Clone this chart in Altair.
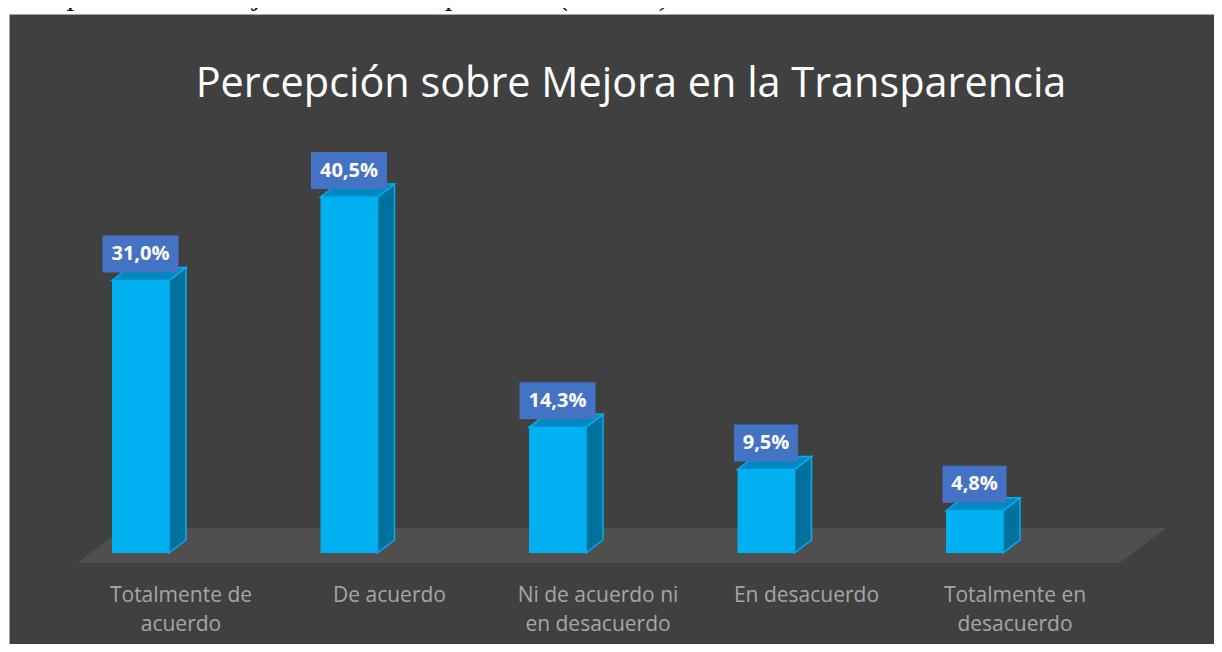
import altair as alt
import pandas as pd

# ---- data ----
categories = ["Totalmente de\nacuerdo", "De acuerdo", "Ni de acuerdo ni\nen desacuerdo",
              "En desacuerdo", "Totalmente en\ndesacuerdo"]
values = [31.0, 40.5, 14.3, 9.5, 4.8]
title_text = "Percepción sobre Mejora en la Transparencia"
caption_text = "Percepción sobre Mejora en la Transparencia (Ítem 15)"

# ---- layout constants ----
W, H = 1205, 630
PX_X = 208.5           # pixels per category step
PX_Y = 8.79            # pixels per percentage point
X_DOMAIN = [-172 / PX_X, (W - 172) / PX_X]
Y_DOMAIN = [(539 - H) / PX_Y, 539 / PX_Y]
BAR_L = -69 / PX_X     # front face left edge relative to category centre
BAR_W = 57 / PX_X
DX = 17 / PX_X         # 3D depth
DY = 13 / PX_Y
FLOOR_FRONT = -10 / PX_Y
FLOOR_BACK = 25 / PX_Y
FLOOR_SHIFT = 47 / PX_X

xs = alt.Scale(domain=X_DOMAIN, nice=False, zero=False)
ys = alt.Scale(domain=Y_DOMAIN, nice=False, zero=False)

n = len(categories)
bars = pd.DataFrame({"cat": categories, "pos": list(range(n)), "value": values})
bars["left"] = bars["pos"] + BAR_L
bars["right"] = bars["left"] + BAR_W
bars["center"] = bars["left"] + BAR_W / 2
bars["label"] = [f"{v:.1f}".replace(".", ",") + "%" for v in values]
half = (bars["label"].str.len() * 12 + 16) / 2 / PX_X
bars["box_lo"] = bars["center"] - half
bars["box_hi"] = bars["center"] + half
bars["zero"] = 0.0

side_rows, top_rows = [], []
for _, r in bars.iterrows():
    side_rows.append({"cat": r["cat"], "x": r["right"], "y0": 0.0, "y1": r["value"]})
    side_rows.append({"cat": r["cat"], "x": r["right"] + DX, "y0": DY, "y1": r["value"] + DY})
    top_rows.append({"cat": r["cat"], "y": r["value"], "x0": r["left"], "x1": r["right"]})
    top_rows.append({"cat": r["cat"], "y": r["value"] + DY, "x0": r["left"] + DX, "x1": r["right"] + DX})
side = pd.DataFrame(side_rows)
top = pd.DataFrame(top_rows)
floor = pd.DataFrame({"y": [FLOOR_FRONT, FLOOR_BACK],
                      "x0": [-0.5, -0.5 + FLOOR_SHIFT],
                      "x1": [n - 0.5, n - 0.5 + FLOOR_SHIFT]})

FRONT = "#00B0F0"
SIDE = "#00709C"
TOP = "#0089C0"

floor_l = alt.Chart(floor).mark_area(orient="horizontal", color="#504E4F").encode(
    y=alt.Y("y:Q", scale=ys, axis=None),
    x=alt.X("x0:Q", scale=xs, axis=None),
    x2="x1:Q",
)
side_l = alt.Chart(side).mark_area(color=SIDE, stroke=FRONT, strokeWidth=1.5).encode(
    x=alt.X("x:Q", scale=xs, axis=None),
    y=alt.Y("y0:Q", scale=ys, axis=None),
    y2="y1:Q",
    detail="cat:N",
)
top_l = alt.Chart(top).mark_area(orient="horizontal", color=TOP, stroke=FRONT, strokeWidth=1.5).encode(
    y=alt.Y("y:Q", scale=ys, axis=None),
    x=alt.X("x0:Q", scale=xs, axis=None),
    x2="x1:Q",
    detail="cat:N",
)
front_l = alt.Chart(bars).mark_rect(color=FRONT).encode(
    x=alt.X("left:Q", scale=xs, axis=None),
    x2="right:Q",
    y=alt.Y("zero:Q", scale=ys, axis=None),
    y2="value:Q",
)
box_l = alt.Chart(bars).mark_rect(color="#4472C4", yOffset=-45, y2Offset=-8).encode(
    x=alt.X("box_lo:Q", scale=xs, axis=None),
    x2="box_hi:Q",
    y=alt.Y("value:Q", scale=ys, axis=None),
    y2="value:Q",
)
lab_l = alt.Chart(bars).mark_text(font="Open Sans", fontWeight="bold", fontSize=20,
                                  color="white", baseline="middle", dy=-26.5).encode(
    x=alt.X("center:Q", scale=xs, axis=None),
    y=alt.Y("value:Q", scale=ys, axis=None),
    text="label:N",
)
cat_l = alt.Chart(bars).mark_text(font="Open Sans", fontSize=21, color="#A6A6A6",
                                  lineBreak="\n", lineHeight=29, baseline="alphabetic").encode(
    x=alt.X("pos:Q", scale=xs, axis=None),
    y=alt.value(588),
    text="cat:N",
)
title_l = alt.Chart(pd.DataFrame({"t": [title_text]})).mark_text(
    font="Open Sans", fontSize=41.4, color="white", baseline="alphabetic", align="center"
).encode(x=alt.value(622), y=alt.value(83), text="t:N")
caption_l = alt.Chart(pd.DataFrame({"t": [caption_text]})).mark_text(
    font="Liberation Serif", fontStyle="italic", fontSize=30, color="black",
    baseline="alphabetic", align="left"
).encode(x=alt.value(-9), y=alt.value(-9), text="t:N")

chart = alt.layer(
    floor_l, side_l, top_l, front_l, box_l, lab_l, cat_l, title_l, caption_l
).properties(
    width=W, height=H,
    padding={"left": 1, "top": 6, "right": 0, "bottom": 0},
    autosize=alt.AutoSizeParams(type="none"),
    background="white",
).configure_view(fill="#404040", stroke="#A6A6A6", strokeWidth=1)

chart.save("out.html", embed_options={"renderer": "svg", "actions": False})
